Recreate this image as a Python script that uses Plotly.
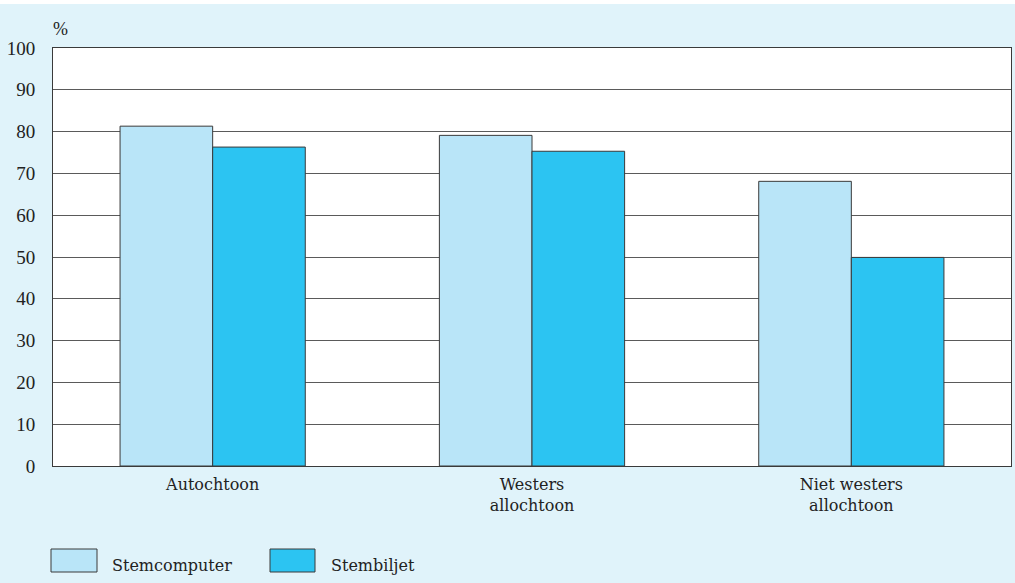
import plotly.graph_objects as go

categories = ["Autochtoon", "Westers<br>allochtoon", "Niet westers<br>allochtoon"]
stemcomputer = [81.3, 79.1, 68.1]
stembiljet = [76.3, 75.3, 49.9]
series_names = ["Stemcomputer", "Stembiljet"]
y_ticks = [0, 10, 20, 30, 40, 50, 60, 70, 80, 90, 100]

BG = "#e0f3fa"
LIGHT = "#b9e5f8"
DARK = "#2cc4f2"
EDGE = "#3a3a3a"
TXT = "#222222"
SERIF = "DejaVu Serif"

fig = go.Figure()
fig.add_trace(go.Bar(x=categories, y=stemcomputer, name=series_names[0],
                     marker=dict(color=LIGHT, line=dict(color=EDGE, width=1))))
fig.add_trace(go.Bar(x=categories, y=stembiljet, name=series_names[1],
                     marker=dict(color=DARK, line=dict(color=EDGE, width=1))))

W, H = 1015, 583
ml, mr, mt, mb = 53, 4, 48, 117
ph = H - mt - mb
pw = W - ml - mr

def py(pix):  # pixel y -> paper y
    return (H - mb - pix) / ph

def px(pix):  # pixel x -> paper x
    return (pix - ml) / pw

shapes = [
    # white strip at top
    dict(type="rect", xref="paper", yref="paper", x0=px(-2), x1=px(W + 2), y0=py(4), y1=py(-2),
         fillcolor="white", line=dict(width=0), layer="below"),
    # legend boxes
    dict(type="rect", xref="paper", yref="paper", x0=px(51), x1=px(97), y0=py(572), y1=py(549),
         fillcolor=LIGHT, line=dict(color=EDGE, width=1)),
    dict(type="rect", xref="paper", yref="paper", x0=px(270), x1=px(315), y0=py(572), y1=py(549),
         fillcolor=DARK, line=dict(color=EDGE, width=1)),
]

annotations = [
    dict(text="%", xref="paper", yref="paper", x=px(51), y=py(29), xanchor="left", yanchor="middle",
         showarrow=False, font=dict(family="Liberation Serif", size=18, color=TXT)),
    dict(text=series_names[0], xref="paper", yref="paper", x=px(110), y=py(565), xanchor="left",
         yanchor="middle", showarrow=False, font=dict(family=SERIF, size=16, color=TXT)),
    dict(text=series_names[1], xref="paper", yref="paper", x=px(329), y=py(565), xanchor="left",
         yanchor="middle", showarrow=False, font=dict(family=SERIF, size=16, color=TXT)),
]

fig.update_layout(
    width=W, height=H,
    margin=dict(l=ml, r=mr, t=mt, b=mb, pad=0),
    paper_bgcolor=BG, plot_bgcolor="white",
    barmode="group", bargap=0.42, bargroupgap=0,
    showlegend=False,
    shapes=shapes, annotations=annotations,
    xaxis=dict(showgrid=False, showline=True, linecolor=EDGE, linewidth=1, mirror=True,
               ticks="outside", ticklen=4, tickcolor="rgba(0,0,0,0)",
               tickfont=dict(family=SERIF, size=16, color=TXT), range=[-0.5, 2.5]),
    yaxis=dict(range=[0, 100], tickvals=y_ticks, showgrid=True, gridcolor="#5a5a5a", gridwidth=1,
               showline=True, linecolor=EDGE, linewidth=1, mirror=True, zeroline=False,
               ticks="outside", ticklen=13, tickcolor="rgba(0,0,0,0)",
               tickfont=dict(family="Liberation Serif", size=19, color=TXT)),
)

fig.write_html("out.html", config={"displayModeBar": False},
               post_script="document.body.style.margin='0';document.body.style.overflow='hidden';")
